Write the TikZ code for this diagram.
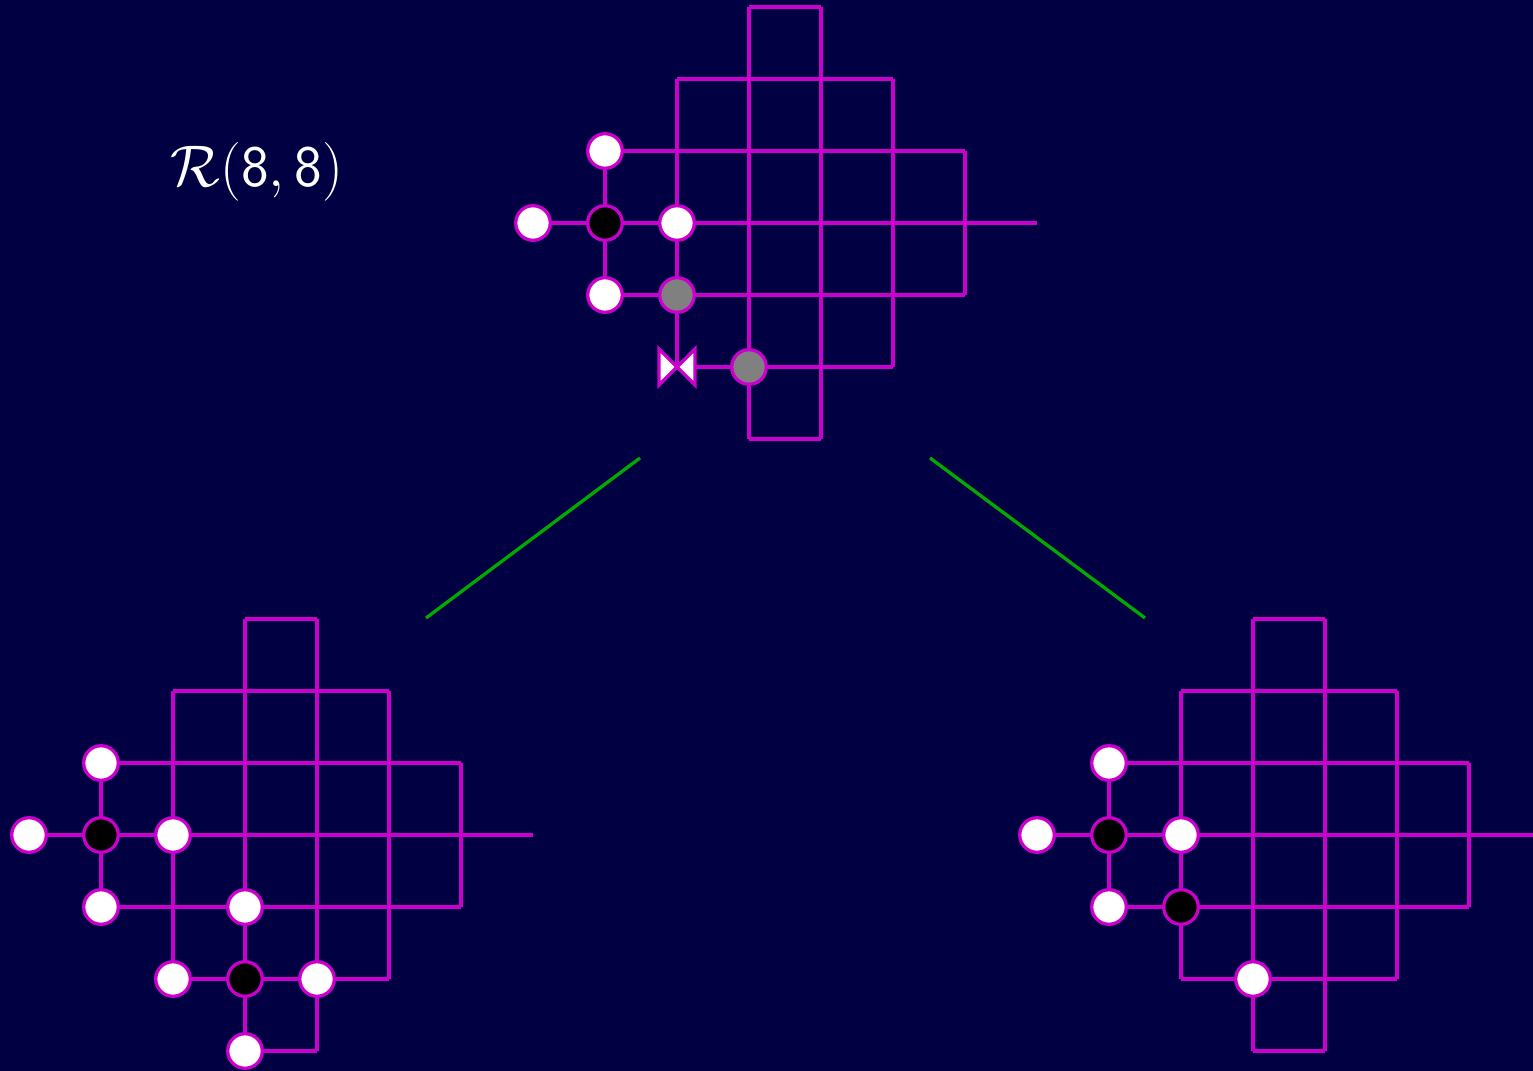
\documentclass[tikz,border=0pt]{standalone}
\usepackage{amsmath}
\usepackage{amssymb}
\usepackage{tikz}

\definecolor{board}{RGB}{0,0,66}
\definecolor{mag}{RGB}{204,0,204}
\definecolor{branch}{RGB}{0,170,0}
\definecolor{stone}{RGB}{128,128,128}

\begin{document}
\begin{tikzpicture}[
      grid/.style={mag,line width=1.3pt},
      free/.style={circle,draw=mag,fill=white,line width=1.3pt,minimum size=0.48cm,inner sep=0pt},
      taken/.style={free,fill=black},
      marked/.style={free,fill=stone},
      bowtie/.style={draw=mag,fill=white,line width=1.3pt},
      split/.style={branch,line width=1.3pt},
      rgrid/.pic={
        % Draw the columns.
        \draw[grid] (1,-2) -- (1,-4);
        \draw[grid] (2,-1) -- (2,-5);
        \draw[grid] (3,0)  -- (3,-6);
        \draw[grid] (4,0)  -- (4,-6);
        \draw[grid] (5,-1) -- (5,-5);
        \draw[grid] (6,-2) -- (6,-4);
        % Draw the rows.
        \draw[grid] (3,0)  -- (4,0);
        \draw[grid] (2,-1) -- (5,-1);
        \draw[grid] (1,-2) -- (6,-2);
        \draw[grid] (0,-3) -- (7,-3);
        \draw[grid] (1,-4) -- (6,-4);
        \draw[grid] (2,-5) -- (5,-5);
        \draw[grid] (3,-6) -- (4,-6);
      }
    ]
    \useasboundingbox[fill=board] (0,0) rectangle (21.2917,-14.875);
    % Draw the label.
    \node[text=white,font=\fontsize{20}{24}\selectfont] (title) at (3.569,-2.389) {\scalebox{1.12}{$\mathcal{R}(\mathsf{8},\mathsf{8})$}};
    % Draw the top board.
    \begin{scope}[shift={(7.4028,-0.0972)}]
      \pic {rgrid};
      \node[free]   (t12) at (1,-2) {};
      \node[free]   (t03) at (0,-3) {};
      \node[taken]  (t13) at (1,-3) {};
      \node[free]   (t23) at (2,-3) {};
      \node[free]   (t14) at (1,-4) {};
      \node[marked] (t24) at (2,-4) {};
      \node[marked] (t35) at (3,-5) {};
      \coordinate (valve) at (2,-5);
      \draw[bowtie] (valve) -- ++(-0.25,0.25) -- ++(0,-0.5) -- cycle
                    (valve) -- ++(0.25,0.25) -- ++(0,-0.5) -- cycle;
    \end{scope}
    % Draw the bottom left board.
    \begin{scope}[shift={(0.4028,-8.5972)}]
      \pic {rgrid};
      \node[free]  (l12) at (1,-2) {};
      \node[free]  (l03) at (0,-3) {};
      \node[taken] (l13) at (1,-3) {};
      \node[free]  (l23) at (2,-3) {};
      \node[free]  (l14) at (1,-4) {};
      \node[free]  (l34) at (3,-4) {};
      \node[free]  (l25) at (2,-5) {};
      \node[taken] (l35) at (3,-5) {};
      \node[free]  (l45) at (4,-5) {};
      \node[free]  (l36) at (3,-6) {};
    \end{scope}
    % Draw the bottom right board.
    \begin{scope}[shift={(14.4028,-8.5972)}]
      \pic {rgrid};
      \node[free]  (r12) at (1,-2) {};
      \node[free]  (r03) at (0,-3) {};
      \node[taken] (r13) at (1,-3) {};
      \node[free]  (r23) at (2,-3) {};
      \node[free]  (r14) at (1,-4) {};
      \node[taken] (r24) at (2,-4) {};
      \node[free]  (r35) at (3,-5) {};
    \end{scope}
    % Draw the branches.
    \coordinate (ltop) at (8.889,-6.361);
    \coordinate (lbot) at (5.917,-8.583);
    \coordinate (rtop) at (12.917,-6.361);
    \coordinate (rbot) at (15.903,-8.583);
    \draw[split] (ltop) -- (lbot);
    \draw[split] (rtop) -- (rbot);
\end{tikzpicture}
\end{document}
